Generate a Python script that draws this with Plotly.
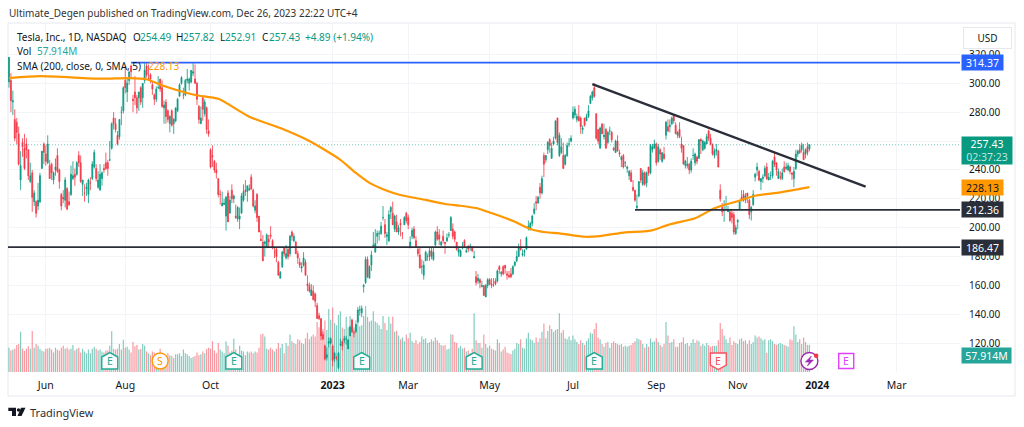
import plotly.graph_objects as go

# one row per month, May 2022 (from the 4th) to Dec 2023 (to the 26th)
open_rows = [
    [301,302,287,275,273,265,233,259,255,258,254,232,238,218,218,215,218,241,258],
    [251,245,243,244,233,240,250,240,223,221,219,227,218,223,234,237,237,250,245,230,224],
    [227,223,231,234,242,241,228,226,234,241,245,245,247,255,276,272,264,263,280,281],
    [302,294,302,312,289,294,290,290,297,290,302,312,303,306,299,292,289,297,303,297,283,287,281],
    [272,281,272,274,281,291,300,292,292,302,300,301,307,303,300,284,272,290,279,283,267],
    [254,250,246,240,234,223,215,216,208,224,210,226,220,208,206,206,210,219,226,225,226],
    [235,226,212,223,208,192,190,189,186,192,195,191,183,185,176,165,173,186,179,185,182],
    [197,191,190,182,176,172,174,176,161,160,153,156,154,146,139,137,126,118,110,120,120],
    [118,109,110,103,119,121,122,123,116,125,136,127,128,135,143,141,159,162,178,165],
    [174,187,183,194,196,196,207,202,194,191,211,210,199,204,197,203,196,202,210],
    [207,186,194,199,191,185,181,173,167,177,180,180,184,178,188,197,195,188,194,190,191,195,198],
    [199,197,190,183,180,186,191,183,187,187,187,179,166,163,164,159,160,152,160],
    [164,161,160,163,163,173,168,173,174,168,167,168,168,174,177,180,186,181,183,185,200,199],
    [203,210,218,217,228,224,250,247,254,261,248,258,262,276,250,252,250,244,250,258,260],
    [276,278,275,277,276,268,276,274,277,286,290,297,279,268,255,272,263,268,259,267],
    [266,255,252,260,252,247,250,245,241,236,238,228,226,214,222,241,230,238,231,242,238,254,255],
    [258,246,254,246,251,264,270,270,272,278,271,264,268,258,257,243,243,244,240,250],
    [245,249,248,261,254,255,258,267,262,258,250,253,253,226,214,212,216,211,211,210,209,196],
    [204,213,221,223,219,224,219,211,216,235,240,239,232,234,236,242,233,236,236,249,245],
    [234,235,234,242,241,240,242,238,234,241,251,254,254,252,251,256,254.49],
]
high_rows = [
    [318,307,295,282,276,270,253,262,265,262,254,245,240,226,219,231,238,253,259],
    [257,264,247,245,239,248,255,241,224,226,235,228,225,243,246,241,246,253,250,232,230],
    [231,234,235,246,254,244,239,244,239,244,252,247,260,273,280,276,267,275,284,298],
    [312,304,308,313,292,305,292,294,298,300,314,314,313,307,301,293,298,305,303,302,288,289,282],
    [278,282,276,283,290,300,305,297,303,310,304,309,314,313,301,285,284,291,289,284,275],
    [255,257,247,245,234,226,225,220,222,226,222,230,223,216,215,214,224,230,233,229,230],
    [237,227,219,224,208,198,195,191,196,195,201,192,186,186,177,170,184,186,188,186,195],
    [198,196,191,184,179,176,183,178,167,162,161,160,155,148,141,137,128,119,117,124,124],
    [119,114,111,114,123,122,125,125,123,132,137,129,133,145,146,146,161,180,180,174],
    [184,197,199,198,198,204,215,206,197,212,215,218,209,209,202,206,197,208,211],
    [209,194,200,201,194,187,186,178,177,184,182,186,186,186,198,201,199,191,198,190,196,197,208],
    [203,198,190,186,185,190,192,186,188,189,187,184,170,168,165,163,160,161,165],
    [165,165,165,165,171,174,170,174,174,170,170,172,174,177,184,189,192,185,185,194,205,204],
    [209,217,222,222,231,236,252,250,260,262,259,263,274,276,266,262,259,251,259,262,264],
    [284,284,279,285,277,271,276,279,285,292,295,300,279,268,270,272,272,269,267,270],
    [267,256,261,264,254,250,251,246,243,240,240,233,226,223,232,241,240,239,239,242,258,258,261],
    [259,258,255,252,256,274,275,275,277,278,273,267,273,263,257,247,249,245,248,255],
    [252,250,261,262,261,260,265,268,265,258,255,258,254,230,217,219,222,215,213,213,211,202],
    [206,219,226,226,224,224,220,215,226,238,245,240,234,237,243,245,238,239,247,252,245],
    [241,239,241,246,245,245,243,238,242,254,254,258,259,258,255,259,257.82],
]
low_rows = [
    [297,280,278,260,258,243,226,249,240,248,233,231,211,215,207,212,217,241,244],
    [243,244,234,233,230,236,238,227,212,217,214,212,215,222,233,229,236,242,231,222,218],
    [222,217,226,233,241,232,227,226,229,238,240,236,246,254,268,266,257,261,271,279],
    [293,287,299,303,280,285,279,281,285,283,300,304,302,300,292,285,287,296,294,283,272,272,273],
    [266,270,265,273,280,291,299,289,291,300,295,300,305,300,285,272,272,274,277,265,263],
    [241,242,238,234,221,216,215,216,198,204,210,217,217,206,204,199,210,218,222,218,226],
    [226,214,210,204,197,191,177,180,186,186,192,185,179,176,167,166,172,180,178,178,180],
    [191,190,182,175,172,169,173,167,156,155,156,150,145,137,136,122,122,108,108,117,119],
    [104,107,108,102,118,115,120,119,116,125,127,124,127,134,139,138,155,161,165,165],
    [170,187,183,189,191,195,205,193,188,190,206,202,197,197,195,194,192,202,203],
    [199,186,192,192,186,180,172,168,164,177,177,177,178,177,187,191,188,187,189,182,190,193,198],
    [192,190,184,180,180,185,186,183,183,184,183,179,160,161,158,159,153,152,158],
    [160,158,159,160,162,168,166,167,168,164,165,165,167,173,176,180,184,180,180,185,198,198],
    [201,209,212,217,220,223,235,245,251,252,248,257,261,257,249,251,241,243,249,256,259],
    [275,276,273,275,265,265,270,274,276,286,288,290,261,258,255,265,261,255,258,264],
    [259,253,252,253,249,242,241,242,238,233,232,225,218,212,221,231,229,229,228,236,237,252,255],
    [243,245,247,245,247,261,266,266,271,272,265,262,262,252,244,241,241,237,238,247],
    [243,244,248,251,253,254,258,260,257,250,248,250,242,218,208,204,212,212,204,203,195,195],
    [199,213,218,218,217,217,206,205,215,232,236,232,226,231,235,233,233,233,234,242,236],
    [234,233,233,238,240,239,237,233,228,240,249,251,252,247,248,250,252.91],
]
close_rows = [
    [318,288,288,262,266,244,243,256,241,254,236,236,221,224,210,219,236,253,252],
    [246,258,234,238,238,242,239,232,215,220,233,213,216,237,236,235,245,245,232,233,224],
    [228,233,231,244,252,234,233,237,238,240,241,241,247,272,272,268,258,275,280,297],
    [297,300,308,308,288,290,283,294,287,300,309,306,303,303,296,289,296,297,296,284,285,277,275],
    [277,271,275,283,289,299,304,292,302,303,303,309,308,300,289,275,276,282,287,268,265],
    [242,249,240,238,223,223,217,217,221,204,219,220,222,207,214,208,222,225,225,229,227],
    [227,215,215,207,197,191,177,190,195,190,194,186,183,180,167,169,183,182,182,180,194],
    [194,194,182,179,174,173,179,167,160,156,157,150,149,137,137,125,123,109,112,121,123],
    [108,113,110,113,119,118,123,123,122,131,128,127,133,143,143,144,160,178,166,173],
    [181,188,189,196,196,201,207,196,195,209,214,202,208,197,200,202,196,207,205],
    [202,190,198,193,187,182,172,173,174,183,180,184,180,183,197,192,192,190,191,189,193,195,207],
    [194,192,185,185,184,186,187,184,185,187,184,180,162,165,162,160,153,160,164],
    [161,160,160,161,170,171,169,168,172,167,166,166,173,176,180,186,185,182,184,193,201,203],
    [208,213,217,221,224,234,244,250,259,257,255,260,274,259,264,256,241,250,257,258,262],
    [280,282,277,274,270,269,271,277,281,291,294,291,262,260,269,265,264,255,266,267],
    [261,254,260,253,251,249,242,245,242,239,232,226,219,215,232,233,238,230,238,238,257,256,258],
    [245,256,251,252,248,273,267,271,276,274,265,266,263,255,244,246,244,240,246,250],
    [251,246,261,260,260,259,263,262,258,251,253,254,242,220,211,212,216,212,205,207,197,200],
    [205,218,219,219,222,222,209,214,223,237,242,233,234,235,241,234,235,236,246,244,240],
    [239,235,238,239,242,243,239,237,239,251,253,252,257,247,254,252,257.43],
]
volume_rows = [
    [52,46,48,50,58,60,86,50,45,50,55,50,88,52,60,56,50,46,44],
    [50,50,52,48,42,52,48,46,52,56,50,52,48,50,58,46,50,52,42,50,44],
    [40,48,40,50,54,50,46,48,44,42,46,46,56,87,50,48,50,60,48,69],
    [52,54,48,42,64,55,58,48,50,60,56,44,40,36,44,42,40,36,50,38,32,36,40],
    [36,34,30,38,38,40,34,48,40,38,34,30,32,34,42,36,38,44,40,50,52],
    [50,66,46,40,62,48,44,40,66,56,42,46,71,48,38,56,46,44,36,44,42],
    [44,40,44,42,52,80,82,76,50,48,52,48,44,50,62,52,60,40,62,56,80],
    [66,62,60,70,68,62,60,72,84,70,76,80,76,107,96,88,92,110,90,135,112],
    [138,105,100,122,130,95,92,118,96,120,108,95,110,118,98,100,120,141,118,108],
    [110,130,108,105,100,92,120,105,90,118,104,118,86,88,78,70,74,66,80],
    [72,84,66,62,68,60,64,76,70,72,62,64,70,66,74,68,62,58,56,58,48,50,80],
    [80,64,62,52,56,50,52,44,46,40,50,126,68,62,62,52,80,60,52],
    [56,50,48,46,70,62,44,48,54,42,40,38,46,50,62,60,70,52,50,72,84,70],
    [68,62,74,64,72,86,104,72,88,100,92,86,90,92,126,84,90,72,70,76,68],
    [78,70,64,60,68,62,58,66,72,84,82,92,105,74,70,60,54,62,64,52],
    [62,66,62,60,58,60,54,56,54,56,58,62,66,72,70,68,60,52,60,54,72,64,66],
    [72,64,58,54,60,107,78,62,64,70,54,54,62,64,74,60,62,56,62,70],
    [62,68,66,56,60,56,62,58,54,56,56,56,68,105,92,78,70,62,74,58,66,62],
    [60,70,72,66,68,60,68,60,64,78,74,76,72,68,70,41,68,70,66,60,58],
    [60,62,60,58,56,54,70,68,98,80,64,70,60,74,64,58,57.914],
]

# 200 day average
sma_bar = [0,16,47,62,71,80,96,108,124,140,155,171,179,186,194,202,215,225,233,241,247,253,261,269,277,284,297,305,318,326,331,341,354,364,375,385,398,413]
sma_val = [303.7,305,303.2,303.6,302.8,298.1,291.9,289.3,276.9,269,260,247,237.9,231,226.1,222.6,219.2,216.4,215.2,213.6,211,208.3,204.1,199.1,196.8,196.1,193.7,194.2,196.8,197.2,197.9,202.3,206.5,213.4,218,222.1,224.5,228.13]

month_bars = [19,60,104,167,206,248,291,334,376,417,458]
month_labels = ["Jun","Aug","Oct","<b>2023</b>","Mar","May","Jul","Sep","Nov","<b>2024</b>","Mar"]
price_ticks = [120,140,160,180,200,220,240,260,280,300,320]
price_labels = ["120.00","140.00","160.00","180.00","200.00","220.00","240.00","","280.00","300.00","320.00"]

blue_level = 314.37
black_level = 186.47
support_level = 212.36
last_price = 257.43
trend_bars = [301,442]
trend_prices = [299.5,228.4]
support_start = 323
blue_start = 63

green_e_bars = [52,116,182,240,302]
split_bar = 78
red_e_bar = 366
next_e_bar = 432
news_bar = 413
event_price = 107.6

UP = "#089981"
DOWN = "#F23645"
DARK = "#2A2E39"
TEXT = "#131722"
ORANGE = "#FF9800"
BLUE = "#2962FF"
FONT = "Noto Sans"
XMAX = 490.7


def flatten(rows):
    for i, r in enumerate(rows):
        assert len(r) == len(close_rows[i]), (i, len(r), len(close_rows[i]))
    return [v for r in rows for v in r]


opens = flatten(open_rows)
highs = flatten(high_rows)
lows = flatten(low_rows)
closes = flatten(close_rows)
volumes = flatten(volume_rows)
bars = list(range(len(closes)))
assert len(bars) == 414, len(bars)


# page pixels to paper coordinates
def px_x(x):
    return (x - 8) / 952


def px_y(y):
    return (372 - y) / 349


fig = go.Figure()

vol_colors = ["rgba(8,153,129,0.5)" if c >= o else "rgba(242,54,69,0.5)" for o, c in zip(opens, closes)]
fig.add_trace(go.Bar(x=bars, y=volumes, marker=dict(color=vol_colors, line=dict(width=0)), width=0.62, yaxis="y"))

fig.add_trace(go.Scatter(x=[-1, XMAX], y=[last_price, last_price], mode="lines", yaxis="y2",
                         line=dict(color="rgba(8,153,129,0.55)", width=1, dash="1px 2px")))

fig.add_trace(go.Candlestick(
    x=bars, open=opens, high=highs, low=lows, close=closes, yaxis="y2", whiskerwidth=0,
    increasing=dict(line=dict(color=UP, width=0.8), fillcolor=UP),
    decreasing=dict(line=dict(color=DOWN, width=0.8), fillcolor=DOWN),
))

fig.add_trace(go.Scatter(x=sma_bar, y=sma_val, mode="lines", yaxis="y2", line=dict(color=ORANGE, width=2.2, shape="spline", smoothing=0.6)))
fig.add_trace(go.Scatter(x=[blue_start, XMAX], y=[blue_level, blue_level], mode="lines", yaxis="y2",
                         line=dict(color=BLUE, width=1.8)))
fig.add_trace(go.Scatter(x=[-1, XMAX], y=[black_level, black_level], mode="lines", yaxis="y2",
                         line=dict(color=DARK, width=1.8)))
fig.add_trace(go.Scatter(x=[support_start, XMAX], y=[support_level, support_level], mode="lines", yaxis="y2",
                         line=dict(color=DARK, width=1.8)))
fig.add_trace(go.Scatter(x=trend_bars, y=trend_prices, mode="lines", yaxis="y2", line=dict(color=DARK, width=2.4)))

shapes = []
annotations = []


def label(x, y, text, size=10, color=TEXT, anchor="left", **kw):
    annotations.append(dict(xref="paper", yref="paper", x=px_x(x), y=px_y(y), text=text, showarrow=False,
                            xanchor=anchor, yanchor="middle", borderpad=0,
                            font=dict(family=FONT, size=size, color=color), **kw))


def price_tag(price, text, bg, width=41, height=15, color="#ffffff", yshift=0):
    annotations.append(dict(xref="paper", yref="y2", x=1, y=price, text=text, showarrow=False, xanchor="left",
                            xshift=1, yshift=yshift, yanchor="middle", width=width, height=height, bgcolor=bg,
                            borderpad=0, align="center", font=dict(family=FONT, size=10.5, color=color)))


def badge(bar, path, line_color, letter):
    shapes.append(dict(type="path", xref="x", yref="y2", xsizemode="pixel", ysizemode="pixel", xanchor=bar,
                       yanchor=event_price, path=path, line=dict(color=line_color, width=1.4),
                       fillcolor="rgba(255,255,255,0.9)"))
    annotations.append(dict(xref="x", yref="y2", x=bar, y=event_price, text=letter, showarrow=False,
                            font=dict(family=FONT, size=10.5, color=line_color)))


# earnings, split and news badges
for b in green_e_bars:
    badge(b, "M -8 -8 L 8 -8 L 8 4 L 0 8.5 L -8 4 Z", "#22AB94", "E")
badge(red_e_bar, "M -8 8 L 8 8 L 8 -4 L 0 -8.5 L -8 -4 Z", "#F7525F", "E")
badge(next_e_bar, "M -7.5 -7.5 L 7.5 -7.5 L 7.5 7.5 L -7.5 7.5 Z", "#E040FB", "E")

shapes.append(dict(type="circle", xref="x", yref="y2", xsizemode="pixel", ysizemode="pixel", xanchor=split_bar,
                   yanchor=event_price, x0=-8, x1=8, y0=-8, y1=8, line=dict(color=ORANGE, width=1.4),
                   fillcolor="rgba(255,255,255,0.9)"))
annotations.append(dict(xref="x", yref="y2", x=split_bar, y=event_price, text="S", showarrow=False,
                        font=dict(family=FONT, size=10.5, color=ORANGE)))

shapes.append(dict(type="circle", xref="x", yref="y2", xsizemode="pixel", ysizemode="pixel", xanchor=news_bar,
                   yanchor=event_price, x0=-8.5, x1=8.5, y0=-8.5, y1=8.5, line=dict(color="#9C27B0", width=1.4),
                   fillcolor="rgba(255,255,255,0.9)"))
shapes.append(dict(type="path", xref="x", yref="y2", xsizemode="pixel", ysizemode="pixel", xanchor=news_bar,
                   yanchor=event_price, path="M 2 5 L -4 -1 L 0 -1 L -2 -5 L 4 1 L 0 1 Z",
                   line=dict(color="#9C27B0", width=0.6), fillcolor="#9C27B0"))
shapes.append(dict(type="circle", xref="x", yref="y2", xsizemode="pixel", ysizemode="pixel", xanchor=news_bar,
                   yanchor=event_price, x0=4.5, x1=9, y0=3, y1=7.5, line=dict(width=0), fillcolor="#F23645"))

# frame of the chart
shapes.append(dict(type="rect", xref="paper", yref="paper", x0=px_x(8), x1=px_x(1015), y0=px_y(396), y1=px_y(23),
                   line=dict(color="#E6E8EE", width=1), layer="below"))

# TradingView logo
logo_paths = [
    [(8.3, 407.7), (16, 407.7), (16, 416), (12, 416), (12, 411), (8.3, 411)],
    [(21, 407.7), (25.5, 407.7), (21.5, 416), (17.5, 416)],
]
for pts in logo_paths:
    p = "M " + " L ".join(f"{px_x(a):.5f} {px_y(b):.5f}" for a, b in pts) + " Z"
    shapes.append(dict(type="path", xref="paper", yref="paper", path=p, line=dict(width=0), fillcolor=TEXT))
shapes.append(dict(type="circle", xref="paper", yref="paper", x0=px_x(16.8), x1=px_x(20.2), y0=px_y(411.7), y1=px_y(408.3),
                   line=dict(width=0), fillcolor=TEXT))
label(28.5, 412, "TradingView", size=11, color="#2A2E39")

label(8, 13, "Ultimate_Degen published on TradingView.com, Dec 26, 2023 22:22 UTC+4", size=10, color="#333333")

label(16, 36.7, "Tesla, Inc., 1D, NASDAQ")
for x, t in [(131.7, "O"), (175, "H"), (219, "L"), (261, "C")]:
    label(x, 36.7, t)
for x, t in [(138.5, "254.49"), (182, "257.82"), (224, "252.91"), (268, "257.43"), (304, "+4.89 (+1.94%)")]:
    label(x, 36.7, t, color=UP)
label(16, 51, "Vol")
label(36, 51, "57.914M", color="#26A69A")
label(16, 66, "SMA (200, close, 0, SMA, 5)")
label(147, 66, "228.13", color=ORANGE)

price_tag(blue_level, "314.37", BLUE)
price_tag(last_price, '257.43<br><span style="color:#BFE6DF">02:37:23</span>', UP, width=50, height=27, yshift=-6)
price_tag(228.13, "228.13", ORANGE, color=TEXT)
price_tag(support_level, "212.36", DARK)
price_tag(black_level, "186.47", DARK)
annotations.append(dict(xref="paper", yref="paper", x=1, y=px_y(355), text="57.914M", showarrow=False, xanchor="left",
                        xshift=1, yanchor="middle", width=49, height=15, bgcolor="#26A69A", borderpad=0,
                        font=dict(family=FONT, size=10.5, color="#ffffff")))

annotations.append(dict(xref="paper", yref="paper", x=px_x(988), y=px_y(37.5), text="USD", showarrow=False,
                        xanchor="center", yanchor="middle", width=47, height=20, bgcolor="#ffffff", borderpad=0,
                        bordercolor="#E6E8EE", borderwidth=1, font=dict(family=FONT, size=10, color=TEXT)))

fig.update_layout(
    width=1024,
    height=427,
    margin=dict(l=8, r=64, t=23, b=55),
    paper_bgcolor="#ffffff",
    plot_bgcolor="#ffffff",
    showlegend=False,
    xaxis=dict(range=[-0.5, XMAX], tickmode="array", tickvals=month_bars, ticktext=month_labels, showgrid=True,
               gridcolor="#F3F4F7", gridwidth=1, zeroline=False, showline=False, ticks="", rangeslider=dict(visible=False),
               tickfont=dict(family=FONT, size=10.5, color=TEXT), ticklabelstandoff=5),
    yaxis=dict(range=[0, 747], visible=False, fixedrange=True),
    yaxis2=dict(range=[100, 341.8], overlaying="y", side="right", tickmode="array", tickvals=price_ticks,
                ticktext=price_labels, showgrid=True, gridcolor="#F3F4F7", gridwidth=1,
                zeroline=False, showline=False, ticks="", tickfont=dict(family=FONT, size=10, color=TEXT),
                ticklabelstandoff=8),
    shapes=shapes,
    annotations=annotations,
)

fig.write_html("out.html", config={"displayModeBar": False},
               post_script="document.body.style.margin='0';document.body.style.overflow='hidden';")
